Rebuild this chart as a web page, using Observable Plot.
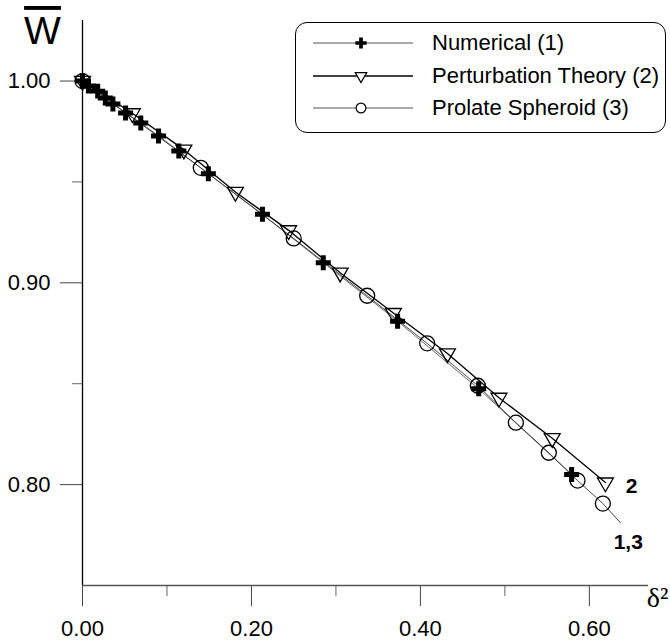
<!DOCTYPE html>
<html>
<head>
<meta charset="utf-8">
<script src="https://cdn.jsdelivr.net/npm/d3@7"></script>
<script src="https://cdn.jsdelivr.net/npm/@observablehq/plot@0.6"></script>
<style>
  body { margin: 0; background: #fff; }
  #wrap { position: relative; width: 670px; height: 641px; }
  .wbar text { text-decoration: overline; }
  #legend {
    position: absolute; left: 295px; top: 22px; width: 371px; height: 111px;
    border: 1.2px solid #000; border-radius: 12px; box-sizing: border-box;
    font-family: "Liberation Sans", Arial, sans-serif; font-size: 22px; color: #000;
  }
</style>
</head>
<body>
<div id="wrap"></div>
<script>
// ---- Data ----
// Numerical (1): "+" markers
const numX = [0.000, 0.007, 0.018, 0.027, 0.036, 0.051, 0.069, 0.090, 0.114, 0.149, 0.213, 0.285, 0.373, 0.469, 0.579];
const numY = [1.000, 0.9975, 0.995, 0.9916, 0.9886, 0.9842, 0.9792, 0.9728, 0.9653, 0.954, 0.934, 0.910, 0.881, 0.8475, 0.805];

// Perturbation Theory (2): down triangles
const pertX = [0.000, 0.059, 0.120, 0.181, 0.244, 0.305, 0.368, 0.432, 0.493, 0.556, 0.619];
const pertY = [1.000, 0.984, 0.966, 0.945, 0.926, 0.905, 0.885, 0.865, 0.843, 0.823, 0.801];

// Prolate Spheroid (3): circles
const prolX = [0.000, 0.140, 0.250, 0.337, 0.408, 0.468, 0.513, 0.552, 0.586, 0.616];
const prolY = [1.000, 0.957, 0.922, 0.8936, 0.870, 0.849, 0.8307, 0.8158, 0.802, 0.7906];

// curve "1,3" continues past the last marker
const curve13EndX = 0.637;
const curve13EndY = 0.781;

// Curve labels
const curveLabels = ["2", "1,3"];
const curveLabelX = [0.650, 0.646];
const curveLabelY = [0.799, 0.7713];

// Axis ticks
const xMajor = [0, 0.2, 0.4, 0.6];
const xMinor = [0.1, 0.3, 0.5];
const yMajor = [0.8, 0.9, 1.0];
const yMinor = [0.85, 0.95];

// Legend
const legendLabels = ["Numerical (1)", "Perturbation Theory (2)", "Prolate Spheroid (3)"];
const legendSymbols = ["cross", "triangle2", "circle"];

// ---- Build tables ----
const num = numX.map((x, i) => ({x, y: numY[i]}));
const pert = pertX.map((x, i) => ({x, y: pertY[i]}));
const prol = prolX.map((x, i) => ({x, y: prolY[i]}));
const prolLine = [...prol, {x: curve13EndX, y: curve13EndY}];
const labs = curveLabels.map((t, i) => ({t, x: curveLabelX[i], y: curveLabelY[i]}));

const fmt = d => d.toFixed(2);

const chart = Plot.plot({
  width: 670,
  height: 641,
  marginLeft: 82,
  marginRight: 22,
  marginTop: 20,
  marginBottom: 56,
  style: {fontFamily: "'Liberation Sans', Arial, sans-serif", fontSize: "22px", background: "white", color: "black"},
  x: {domain: [0, 0.67]},
  y: {domain: [0.75, 1.03]},
  marks: [
    Plot.axisX(xMajor, {tickSize: 21, tickPadding: 14, tickFormat: fmt, stroke: "#444", label: null}),
    Plot.axisX(xMinor, {tickSize: 11, tickFormat: () => "", stroke: "#666", label: null}),
    Plot.axisY(yMajor, {tickSize: 22, tickPadding: 10, tickFormat: fmt, stroke: "#444", label: null}),
    Plot.axisY(yMinor, {tickSize: 10, tickFormat: () => "", stroke: "#666", label: null}),
    Plot.ruleX([0], {stroke: "#000", strokeWidth: 1.3}),
    Plot.ruleY([0.75], {stroke: "#555", strokeWidth: 1.3}),
    Plot.line(num, {x: "x", y: "y", stroke: "#555", strokeWidth: 0.9}),
    Plot.line(prolLine, {x: "x", y: "y", stroke: "#333", strokeWidth: 0.9}),
    Plot.line(pert, {x: "x", y: "y", stroke: "#000", strokeWidth: 1.3}),
    Plot.dot(prol, {x: "x", y: "y", symbol: "circle", r: 7.5, fill: "none", stroke: "#000", strokeWidth: 1.3}),
    Plot.dot(pert, {x: "x", y: "y", symbol: "triangle2", rotate: 180, r: 7.6, fill: "none", stroke: "#000", strokeWidth: 1.3}),
    Plot.dot(num, {x: "x", y: "y", symbol: "cross", r: 6.3, fill: "#000", stroke: "none"}),
    Plot.text(labs, {x: "x", y: "y", text: "t", fontWeight: "bold", fontSize: 21, fill: "#000"}),
    Plot.text(["W"], {frameAnchor: "top-left", textAnchor: "middle", lineAnchor: "middle", dx: -40, dy: 11, fontSize: 39, fill: "#000", className: "wbar"}),
    Plot.text(["δ²"], {frameAnchor: "bottom-right", textAnchor: "middle", lineAnchor: "middle", dx: 9, dy: 13, fontSize: 28, fontFamily: "'Liberation Serif', 'DejaVu Serif', serif", fill: "#000"})
  ]
});

const wrap = document.getElementById("wrap");
wrap.appendChild(chart);

// ---- Legend (HTML overlay) ----
const legend = d3.select(wrap).append("div").attr("id", "legend");
const symMap = {cross: d3.symbolCross, triangle2: d3.symbolTriangle2, circle: d3.symbolCircle};
legendLabels.forEach((lab, i) => {
  const row = legend.append("div")
    .style("position", "absolute").style("left", "0").style("width", "100%")
    .style("top", (4 + i * 32.5) + "px").style("height", "32px");
  const s = row.append("svg").attr("width", 104).attr("height", 32)
    .style("position", "absolute").style("left", "17px").style("top", "0");
  s.append("line").attr("x1", 0).attr("x2", 100).attr("y1", 16).attr("y2", 16)
    .attr("stroke", i === 1 ? "#000" : "#555").attr("stroke-width", i === 1 ? 1.4 : 1);
  const sym = legendSymbols[i];
  const size = sym === "cross" ? 70 : sym === "triangle2" ? 95 : 75;
  s.append("path")
    .attr("d", d3.symbol(symMap[sym], size)())
    .attr("transform", "translate(48,16)" + (sym === "triangle2" ? " rotate(180)" : ""))
    .attr("fill", sym === "cross" ? "#000" : "white")
    .attr("stroke", sym === "cross" ? "none" : "#000")
    .attr("stroke-width", 1.2);
  row.append("span").text(lab)
    .style("position", "absolute").style("left", "136px").style("top", "0")
    .style("line-height", "32px").style("white-space", "nowrap");
});
</script>
</body>
</html>
